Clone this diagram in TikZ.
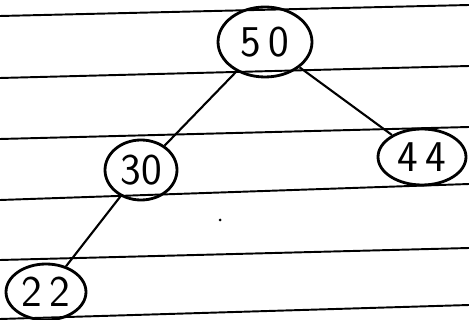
\documentclass[tikz,border=0pt]{standalone}
\usepackage{tikz}
\usetikzlibrary{calc}
\usetikzlibrary{shapes.geometric}

\begin{document}
\begin{tikzpicture}[x=0.02cm,y=-0.02cm,
    treenode/.style={ellipse,draw,line width=1.6pt,inner sep=0pt,
      font=\sffamily\fontsize{25}{30}\selectfont},
    rule/.style={line width=1.1pt},
    edge/.style={line width=1.2pt}]
  % Constants
  \pgfmathsetmacro\w{469}
  \pgfmathsetmacro\h{320}
  % Boundary
  \path[use as bounding box] (0,0) rectangle (\w,\h);
  % Ruled paper
  \begin{scope}
    \clip (0,0) rectangle (\w,\h);
    \foreach \l/\r in {16/5,78/66,139/127,200/184,260/248,319/305}
      \draw[rule] (0,\l) -- (\w,\r);
    \fill (220,220) circle (1.5);
  \end{scope}
  % Nodes
  \node[treenode,minimum width=1.88cm,minimum height=1.4cm] (n50) at (265,42) {5\,0};
  \node[treenode,minimum width=1.44cm,minimum height=1.2cm] (n30) at (141,170) {30};
  \node[treenode,minimum width=1.76cm,minimum height=1.12cm] (n44) at (422,157) {4\,4};
  \node[treenode,minimum width=1.6cm,minimum height=1.12cm] (n22) at (46,292) {2\,2};
  % Edges
  \draw[edge] (n50) -- (n30);
  \draw[edge] (n50) -- (n44);
  \draw[edge] (n30) -- (n22);
\end{tikzpicture}
\end{document}
